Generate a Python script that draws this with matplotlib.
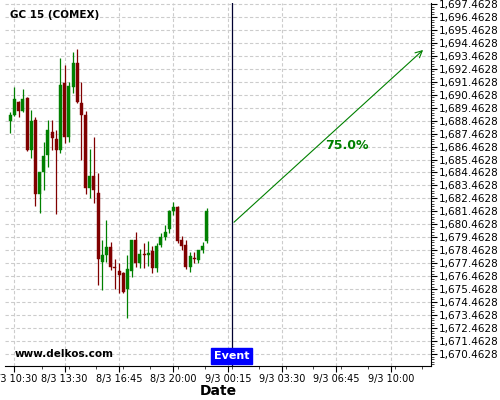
import matplotlib
matplotlib.use("Agg")
import matplotlib.pyplot as plt
import matplotlib.transforms as mtransforms
from matplotlib.ticker import FixedLocator, FuncFormatter
import numpy as np

# ---- data (15-minute candles, indexed) ----
opens = [1688.46, 1688.90, 1689.92, 1689.23, 1690.23, 1686.19, 1688.51, 1682.80, 1684.50, 1685.78,
         1687.58, 1687.04, 1686.19, 1691.34, 1687.22, 1691.08, 1692.93, 1689.80, 1688.90, 1683.24,
         1684.19, 1682.90, 1677.58, 1678.12, 1678.69, 1677.17, 1676.86, 1676.68, 1675.45, 1676.88,
         1679.25, 1677.45, 1678.17, 1678.09, 1678.40, 1677.11, 1678.86, 1679.46, 1680.08, 1681.49,
         1681.82, 1679.25, 1678.86, 1677.14, 1677.86, 1677.71, 1678.48, 1679.20]
highs = [1689.15, 1691.03, 1690.00, 1690.88, 1690.31, 1689.28, 1688.72, 1684.50, 1686.79, 1688.51,
         1688.51, 1687.74, 1693.27, 1692.75, 1691.46, 1693.78, 1693.96, 1691.42, 1689.23, 1686.25,
         1687.22, 1684.40, 1679.25, 1680.79, 1679.12, 1677.76, 1677.45, 1676.78, 1678.09, 1679.25,
         1679.89, 1678.53, 1679.04, 1679.17, 1678.79, 1679.00, 1679.81, 1680.41, 1681.56, 1682.21,
         1681.87, 1679.56, 1679.25, 1678.35, 1678.35, 1678.48, 1679.12, 1681.70]
lows = [1687.48, 1688.84, 1688.76, 1689.15, 1686.10, 1685.55, 1681.87, 1681.36, 1683.11, 1684.86,
        1686.19, 1681.26, 1685.94, 1686.76, 1686.81, 1690.57, 1689.80, 1685.42, 1682.80, 1682.47,
        1682.08, 1675.75, 1675.39, 1677.58, 1676.94, 1675.45, 1675.14, 1675.14, 1673.21, 1676.42,
        1677.19, 1677.07, 1677.07, 1677.24, 1676.73, 1676.80, 1678.73, 1679.25, 1679.77, 1681.18,
        1679.00, 1678.48, 1677.04, 1676.80, 1677.50, 1677.50, 1678.22, 1679.00]
closes = [1688.90, 1690.13, 1689.23, 1690.13, 1686.19, 1688.46, 1682.80, 1684.50, 1685.73, 1687.74,
          1687.12, 1686.19, 1691.21, 1687.22, 1691.13, 1692.88, 1689.92, 1688.90, 1683.24, 1684.19,
          1683.11, 1677.76, 1678.09, 1678.69, 1677.19, 1677.12, 1676.55, 1675.26, 1676.99, 1679.25,
          1677.45, 1678.15, 1678.13, 1678.27, 1677.11, 1678.79, 1679.46, 1679.89, 1681.49, 1681.82,
          1679.20, 1678.79, 1677.14, 1678.02, 1677.82, 1678.48, 1678.79, 1681.51]

tick_index = [1, 13, 26, 39, 52, 65, 78, 91]
tick_labels = ["8/3 10:30", "8/3 13:30", "8/3 16:45", "8/3 20:00",
               "9/3 00:15", "9/3 03:30", "9/3 06:45", "9/3 10:00"]

event_index = 53
arrow_start = (53, 1680.48)
arrow_end = (99.2, 1694.06)
prob_label = "75.0%"
prob_pos = (80.5, 1686.58)

title = "GC 15 (COMEX)"
watermark = "www.delkos.com"

# ---- figure ----
fig = plt.figure(figsize=(5, 4), dpi=100)
ax = fig.add_axes([0.01, 0.085, 0.852, 0.9075])

GREEN = "#008000"
RED = "#800000"
idx = np.arange(len(opens))
for i, o, h, l, c in zip(idx, opens, highs, lows, closes):
    col = GREEN if c >= o else RED
    ax.vlines(i, l, h, color=col, linewidth=0.9, zorder=3)
    lo, hi = min(o, c), max(o, c)
    if hi - lo < 0.06:
        hi = lo + 0.06
    ax.bar(i, hi - lo, bottom=lo, width=0.72, color=col, edgecolor=col, linewidth=0.3, zorder=4)

ax.set_xlim(-1.27, 100.6)
ax.set_ylim(1669.53, 1697.54)

# y axis right
yt = np.arange(1670.4628, 1697.5, 1.0)
ax.yaxis.tick_right()
ax.yaxis.set_major_locator(FixedLocator(yt))
ax.yaxis.set_minor_locator(FixedLocator(np.arange(1669.6628, 1697.54, 0.2)))
ax.yaxis.set_major_formatter(FuncFormatter(lambda v, p: "{:,.4f}".format(v)))

ax.xaxis.set_major_locator(FixedLocator(tick_index))
ax.set_xticklabels(tick_labels)
minor_x = [-5.5 + 6.5 * k for k in range(0, 17)]
minor_x = [m for m in minor_x if m not in tick_index]
ax.xaxis.set_minor_locator(FixedLocator(minor_x))

ax.tick_params(axis="both", which="major", length=4, width=0.8, colors="black")
ax.tick_params(axis="both", which="minor", length=2, width=0.5)
ax.tick_params(axis="y", which="major", pad=1.5, labelsize=7.5)
ax.tick_params(axis="x", which="major", pad=2, labelsize=7)

for s in ["top", "left"]:
    ax.spines[s].set_visible(False)
ax.spines["right"].set_linewidth(0.8)
ax.spines["bottom"].set_linewidth(0.8)

ax.grid(True, which="major", color="#cccccc", linestyle=(0, (3, 2)), linewidth=0.8, zorder=0)
ax.set_axisbelow(True)

ax.set_xlabel("Date", fontsize=10, fontweight="bold", labelpad=0)

# event
ax.axvline(event_index, color="#000030", linewidth=0.9, zorder=5)
trans = mtransforms.blended_transform_factory(ax.transData, ax.transAxes)
ax.text(event_index, 0.028, "Event", transform=trans, ha="center", va="center",
        color="white", fontsize=8, fontweight="bold", zorder=6,
        bbox=dict(boxstyle="square,pad=0.25", facecolor="#0000ff", edgecolor="#0000ff"))

# projection arrow
ax.annotate("", xy=arrow_end, xytext=arrow_start,
            arrowprops=dict(arrowstyle="->", color=GREEN, linewidth=0.8, mutation_scale=12),
            zorder=6)
ax.text(prob_pos[0], prob_pos[1], prob_label, color=GREEN, fontsize=9, fontweight="bold",
        ha="center", va="center", zorder=6)

ax.text(0.012, 0.967, title, transform=ax.transAxes, fontsize=7.5, fontweight="bold",
        ha="left", va="center", zorder=6)
ax.text(0.023, 0.033, watermark, transform=ax.transAxes, fontsize=7.5, fontweight="bold",
        ha="left", va="center", zorder=6)

fig.savefig("out.png", dpi=100)
